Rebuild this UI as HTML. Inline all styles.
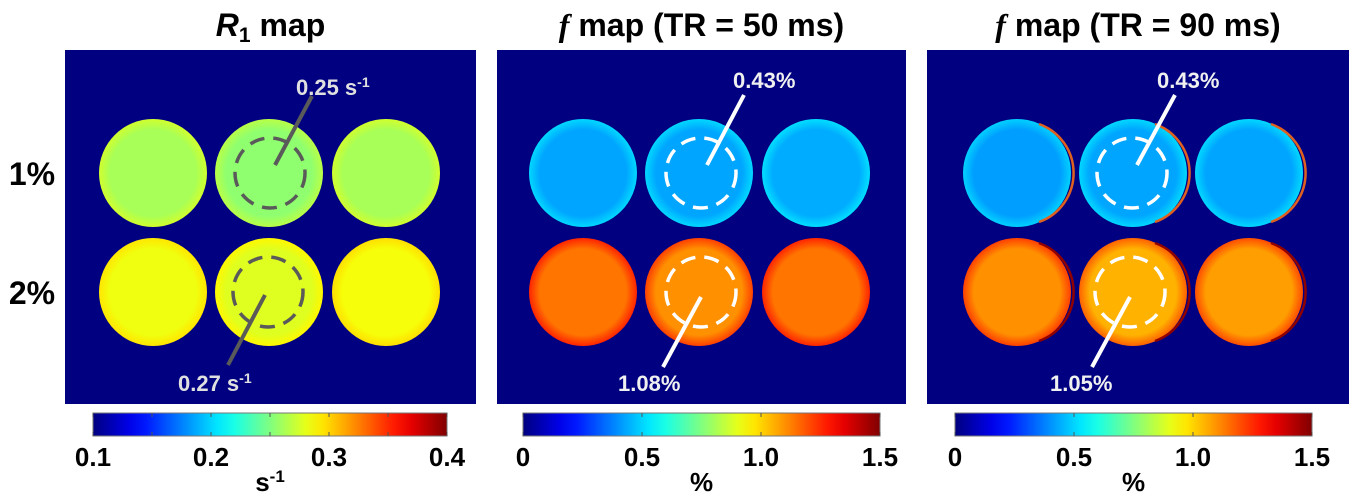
<!DOCTYPE html>
<html><head><meta charset="utf-8">
<style>
html,body{margin:0;padding:0;background:#fff;}
body{width:1357px;height:498px;overflow:hidden;font-family:"Liberation Sans",sans-serif;}
svg text{font-family:"Liberation Sans",sans-serif;font-weight:bold;}
</style></head>
<body>
<svg id="fig" width="1357" height="498" viewBox="0 0 1357 498" xmlns="http://www.w3.org/2000/svg">
<defs id="defs"></defs>
</svg>
<script>
// ---- data ----
const panelTitles = ["map", "map (TR = 50 ms)", "map (TR = 90 ms)"];
const rowLabels = ["1%", "2%"];
const r1Values = [[0.262, 0.255, 0.262],[0.283, 0.278, 0.285]];
const f50Values = [[0.43, 0.43, 0.44],[1.14, 1.10, 1.14]];
const f90Values = [[0.42, 0.43, 0.43],[1.10, 1.05, 1.08]];
const r1Ticks = [0.1, 0.2, 0.3, 0.4];
const r1TickLabels = ["0.1", "0.2", "0.3", "0.4"];
const fTicks = [0, 0.5, 1.0, 1.5];
const fTickLabels = ["0", "0.5", "1.0", "1.5"];
const annotationTop = ["0.25", "0.43%", "0.43%"];
const annotationBottom = ["0.27", "1.08%", "1.05%"];

const NS = "http://www.w3.org/2000/svg";
const svg = document.getElementById("fig");
const defs = document.getElementById("defs");
function mk(tag, attrs, parent){const e=document.createElementNS(NS,tag);for(const k in attrs)e.setAttribute(k,attrs[k]);(parent||svg).appendChild(e);return e;}
function jet(t){
  t=Math.max(0,Math.min(1,t));
  const f=x=>Math.max(0,Math.min(1,x));
  const r=f(Math.min(4*t-1.5,-4*t+4.5)), g=f(Math.min(4*t-0.5,-4*t+3.5)), b=f(Math.min(4*t+0.5,-4*t+2.5));
  return `rgb(${Math.round(r*255)},${Math.round(g*255)},${Math.round(b*255)})`;
}
const panels = [
  {x0:65,x1:476,vals:r1Values,min:0.1,max:0.4,cb:[93,447],ticks:r1Ticks,tl:r1TickLabels,unit:"s",cx:[88,204,321],ann:"#5a5a5a",edge:false,
   top:{lx1:312,ly1:96,lx2:275,ly2:165,tx:296,ty:95},bot:{lx1:265,ly1:295,lx2:228,ly2:365,tx:178,ty:391},dash:[270,268]},
  {x0:497,x1:906,vals:f50Values,min:0,max:1.5,cb:[523,880],ticks:fTicks,tl:fTickLabels,unit:"%",cx:[86,202,319],ann:"#fff",edge:false,
   top:{lx1:744,ly1:95,lx2:707,ly2:165,tx:733,ty:88},bot:{lx1:701,ly1:297,lx2:663,ly2:367,tx:618,ty:391},dash:[701,701]},
  {x0:927,x1:1349,vals:f90Values,min:0,max:1.5,cb:[955,1312],ticks:fTicks,tl:fTickLabels,unit:"%",cx:[90,206,322],ann:"#fff",edge:true,
   top:{lx1:1175,ly1:95,lx2:1137,ly2:165,tx:1157,ty:88},bot:{lx1:1130,ly1:297,lx2:1092,ly2:367,tx:1050,ty:391},dash:[1132,1130]}
];
const rowY=[173,292], R=54, y0=50, y1=404;

panels.forEach((p,pi)=>{
  const g=mk("g",{});
  
  
  const bg=mk("rect",{x:p.x0,y:y0,width:p.x1-p.x0,height:y1-y0,fill:"#000080"},g);
  
  
  const t=mk("text",{x:(p.x0+p.x1)/2,y:36,"text-anchor":"middle","font-size":"32",fill:"#000"},g);
  
  
  if(pi===0){
    const a=mk("tspan",{"font-style":"italic"},t);a.textContent="R";
    const b=mk("tspan",{dy:"6","font-size":"21"},t);b.textContent="1";
    const c=mk("tspan",{dy:"-6"},t);c.textContent=" "+panelTitles[0];
  } else {
    const a=mk("tspan",{"font-style":"italic","font-family":"Liberation Serif"},t);a.textContent="f";
    const c=mk("tspan",{},t);c.textContent=" "+panelTitles[pi];
  }
  p.vals.forEach((row,ri)=>{
    row.forEach((v,ci)=>{
      const cx=p.x0+p.cx[ci], cy=rowY[ri];
      const id="g"+pi+"_"+ri+"_"+ci;
      const tn=(v-p.min)/(p.max-p.min);
      const col=jet(tn);
      const edgeCol=jet(tn+(pi===0?0.04:(ri===0?0.05:0.08)));
      const gr=mk("radialGradient",{id:id,cx:"0.5",cy:"0.5",r:"0.5"},defs);
      mk("stop",{offset:"0",  "stop-color":col},gr);
      mk("stop",{offset:"0.8","stop-color":col},gr);
      mk("stop",{offset:"1","stop-color":edgeCol},gr);
      const c=mk("circle",{cx:cx,cy:cy,r:R,fill:`url(#${id})`},g);
      
      
      if(p.edge){
        const arc=mk("path",{d:`M ${cx+22} ${cy-49} A ${R-2} ${R-2} 0 0 1 ${cx+22} ${cy+49}`,fill:"none",stroke:ri===0?"#e06020":"#900000","stroke-width":"2.5"},g);
        
        
      }
    });
  });
  [0,1].forEach(ri=>{
    const d=mk("circle",{cx:p.dash[ri],cy:rowY[ri],r:35,fill:"none",stroke:p.ann,"stroke-width":"3.5","stroke-dasharray":"15 9"},g);
    
    
  });
  [p.top,p.bot].forEach((a,ai)=>{
    const l=mk("line",{x1:a.lx1,y1:a.ly1,x2:a.lx2,y2:a.ly2,stroke:p.ann,"stroke-width":"4"},g);
    
    
    const tx=mk("text",{x:a.tx,y:a.ty,"font-size":"22",fill:pi===0?"#e0e0e0":"#f0f0f0"},g);
    
    
    const txt=ai===0?annotationTop[pi]:annotationBottom[pi];
    if(pi===0){
      const s1=mk("tspan",{},tx);s1.textContent=txt+" s";
      const s2=mk("tspan",{dy:"-8","font-size":"14"},tx);s2.textContent="-1";
    } else tx.textContent=txt;
  });
  const gid="cb"+pi;
  const lg=mk("linearGradient",{id:gid,x1:"0",x2:"1",y1:"0",y2:"0"},defs);
  for(let i=0;i<=20;i++) mk("stop",{offset:i/20,"stop-color":jet(i/20)},lg);
  const cb=mk("rect",{x:p.cb[0],y:413,width:p.cb[1]-p.cb[0],height:23,fill:`url(#${gid})`,stroke:"#777","stroke-width":"1"},g);
  
  
  const sx=v=>p.cb[0]+(v-p.min)/(p.max-p.min)*(p.cb[1]-p.cb[0]);
  p.ticks.forEach((v,i)=>{
    const X=sx(v);
    mk("line",{x1:X,y1:413,x2:X,y2:417,stroke:"#555","stroke-width":"1"},g);
    mk("line",{x1:X,y1:432,x2:X,y2:436,stroke:"#555","stroke-width":"1"},g);
    const tl=mk("text",{x:X,y:466,"text-anchor":"middle","font-size":"26",fill:"#000"},g);
    
    
    tl.textContent=p.tl[i];
  });
  if(pi===0){
    for(let i=1;i<6;i+=2){const X=sx(0.1+i*0.05);mk("line",{x1:X,y1:413,x2:X,y2:417,stroke:"#555"},g);mk("line",{x1:X,y1:432,x2:X,y2:436,stroke:"#555"},g);}
  }
  const ut=mk("text",{x:(p.cb[0]+p.cb[1])/2,y:491,"text-anchor":"middle","font-size":"26",fill:"#000"},g);
  
  
  if(pi===0){const a=mk("tspan",{},ut);a.textContent="s";const b=mk("tspan",{dy:"-9","font-size":"17"},ut);b.textContent="-1";}
  else ut.textContent="%";
});
rowLabels.forEach((r,i)=>{
  const t=mk("text",{x:32,y:rowY[i]+12,"text-anchor":"middle","font-size":"32",fill:"#000"});
  
  
  t.textContent=r;
});
</script>
</body></html>
